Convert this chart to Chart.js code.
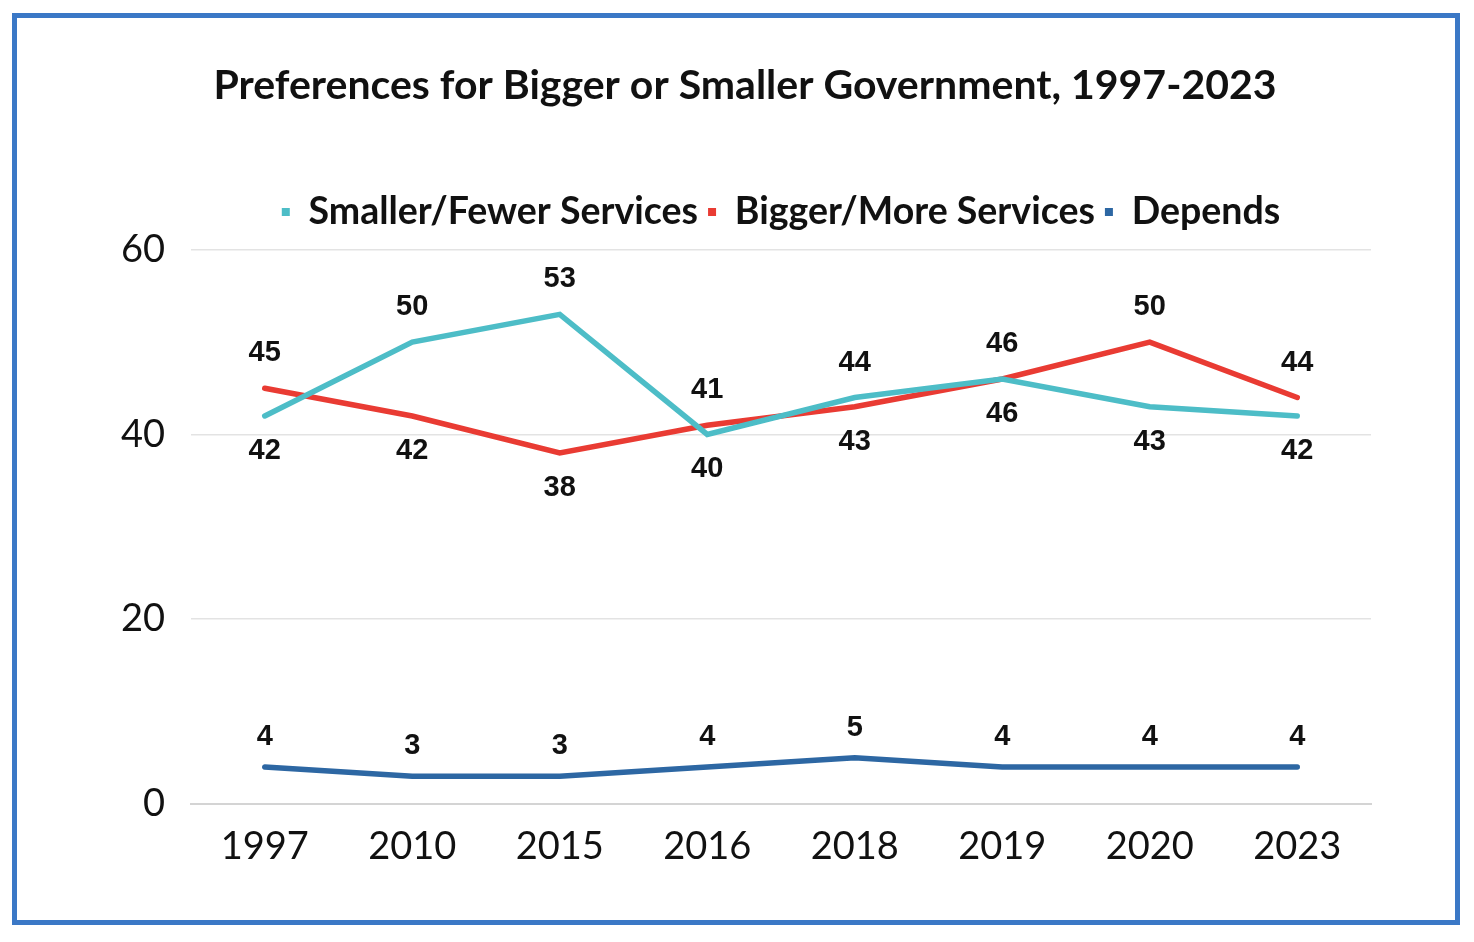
<!DOCTYPE html>
<html>
<head>
<meta charset="utf-8">
<script src="https://cdn.jsdelivr.net/npm/chart.js@4.4.1/dist/chart.umd.min.js"></script>
<style>
  html, body { margin: 0; padding: 0; background: #fff; }
  #frame {
    position: absolute; left: 12px; top: 13px;
    width: 1448px; height: 912px;
    border: 5px solid #3b78c6; box-sizing: border-box;
  }
  #wrap { position: relative; width: 100%; height: 100%; }
</style>
</head>
<body>
<div id="frame"><div id="wrap"><canvas id="chart"></canvas></div></div>
<script>
const years = ['1997', '2010', '2015', '2016', '2018', '2019', '2020', '2023'];
const smaller = [42, 50, 53, 40, 44, 46, 43, 42];
const bigger = [45, 42, 38, 41, 43, 46, 50, 44];
const depends = [4, 3, 3, 4, 5, 4, 4, 4];
const yTicks = [0, 20, 40, 60];

const TEAL = '#4dbdc7';
const RED = '#e93b33';
const BLUE = '#2d67a3';

// puts the value above or below each point, depending on which line is on top
const valueLabels = {
  id: 'valueLabels',
  afterDatasetsDraw(chart) {
    const ctx = chart.ctx;
    ctx.save();
    ctx.font = 'bold 29px "Liberation Sans", Arial, sans-serif';
    ctx.fillStyle = '#111';
    ctx.textAlign = 'center';
    ctx.textBaseline = 'middle';
    chart.data.datasets.forEach((ds, di) => {
      const meta = chart.getDatasetMeta(di);
      meta.data.forEach((pt, i) => {
        let above = true;
        if (di === 0) above = smaller[i] >= bigger[i];
        if (di === 1) above = bigger[i] > smaller[i];
        const off = ds.labelOffset;
        ctx.fillText(String(ds.data[i]), pt.x, above ? pt.y - off : pt.y + off);
      });
    });
    ctx.restore();
  }
};

// a bit of air between the legend and the plot
const legendGap = {
  id: 'legendGap',
  afterInit(chart) {
    const lg = chart.legend;
    if (!lg) return;
    const fit = lg.fit;
    lg.fit = function () {
      fit.call(this);
      this.height += 9;
    };
  }
};

new Chart(document.getElementById('chart'), {
  type: 'line',
  data: {
    labels: years,
    datasets: [
      { label: 'Smaller/Fewer Services', data: smaller, borderColor: TEAL, backgroundColor: TEAL, labelOffset: 35 },
      { label: 'Bigger/More Services', data: bigger, borderColor: RED, backgroundColor: RED, labelOffset: 35 },
      { label: 'Depends', data: depends, borderColor: BLUE, backgroundColor: BLUE, labelOffset: 30 }
    ]
  },
  options: {
    responsive: true,
    maintainAspectRatio: false,
    animation: false,
    elements: {
      line: { borderWidth: 5.5, tension: 0, borderCapStyle: 'round', borderJoinStyle: 'miter' },
      point: { radius: 0, hoverRadius: 0 }
    },
    layout: { padding: { left: 18, right: 0, top: 0, bottom: 0 } },
    plugins: {
      title: {
        display: true,
        text: 'Preferences for Bigger or Smaller Government, 1997-2023',
        color: '#111',
        font: { family: 'Lato', size: 41, weight: 'bold' },
        padding: { top: 43, bottom: 73 }
      },
      legend: {
        position: 'top',
        fullSize: false,
        labels: {
          color: '#111',
          font: { family: 'Lato', size: 37.5, weight: 'bold' },
          boxWidth: 8,
          boxHeight: 8,
          padding: 10,
          generateLabels: (chart) =>
            Chart.defaults.plugins.legend.labels.generateLabels(chart).map(l => ({ ...l, lineWidth: 0 }))
        }
      },
      tooltip: { enabled: false }
    },
    scales: {
      x: {
        offset: true,
        grid: { display: false, drawTicks: false },
        border: { display: true, color: '#d4d4d4', width: 2 },
        ticks: { color: '#111', font: { family: 'Lato', size: 38 }, padding: 20 },
        afterFit: (axis) => { axis.height = 116; }
      },
      y: {
        min: 0,
        max: 60,
        afterBuildTicks: (axis) => { axis.ticks = yTicks.map(v => ({ value: v })); },
        grid: { color: '#e3e3e3', lineWidth: 1.5, drawTicks: false },
        border: { display: false },
        ticks: { color: '#111', font: { family: 'Lato', size: 38 }, padding: 26 },
        afterFit: (axis) => { axis.width = 156; }
      },
      // empty right-hand axis, only there to hold the right margin
      yRight: {
        position: 'right',
        grid: { display: false, drawTicks: false },
        border: { display: false },
        ticks: { display: false },
        afterFit: (axis) => { axis.width = 84; }
      }
    }
  },
  plugins: [valueLabels, legendGap]
});
</script>
</body>
</html>
